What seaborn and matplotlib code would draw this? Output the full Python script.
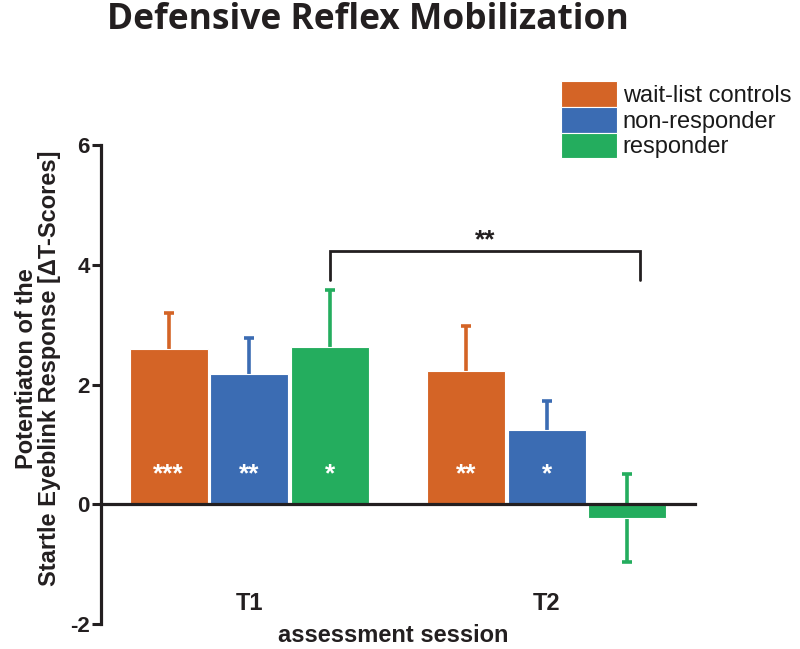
import matplotlib
matplotlib.use('Agg')
import matplotlib.pyplot as plt
import seaborn as sns
import pandas as pd

# dados
sessions = ['T1', 'T2']
groups = ['wait-list controls', 'non-responder', 'responder']
mean_waitlist = [2.60, 2.23]
mean_nonresp = [2.17, 1.24]
mean_resp = [2.62, -0.23]
sem_waitlist = [0.60, 0.74]
sem_nonresp = [0.61, 0.48]
sem_resp = [0.96, 0.73]
stars_waitlist = ['***', '**']
stars_nonresp = ['**', '*']
stars_resp = ['*', '']
yticks = [-2, 0, 2, 4, 6]

colors = ['#D46426', '#3B6CB3', '#24AD5E']
dark = '#231F20'

means = [mean_waitlist, mean_nonresp, mean_resp]
sems = [sem_waitlist, sem_nonresp, sem_resp]
stars = [stars_waitlist, stars_nonresp, stars_resp]

rows = []
for g, m in zip(groups, means):
    for s, v in zip(sessions, m):
        rows.append({'session': s, 'group': g, 'valor': v})
df = pd.DataFrame(rows)

sns.set_style('white')
plt.rcParams['font.family'] = ['Liberation Sans', 'DejaVu Sans']

fig = plt.figure(figsize=(8, 6.49), dpi=100)
ax = fig.add_axes([0.126, 0.0385, 0.743, 0.738])

sns.barplot(data=df, x='session', y='valor', hue='group', hue_order=groups,
            palette=colors, width=0.815, gap=0.035, errorbar=None,
            edgecolor='white', linewidth=0.8, saturation=1, ax=ax, zorder=2)

bar_conts = list(ax.containers)  # copia antes de adicionar as barras de erro

# barras de erro e asteriscos
for i, cont in enumerate(bar_conts):
    for j, bar in enumerate(cont):
        xc = bar.get_x() + bar.get_width() / 2
        ax.errorbar(xc, means[i][j], yerr=sems[i][j], fmt='none',
                    ecolor=colors[i], elinewidth=2.6, capsize=3.3,
                    capthick=2.6, zorder=1)
        if stars[i][j]:
            ax.text(xc, 0.39, stars[i][j], ha='center', va='baseline',
                    color='white', fontsize=19, fontweight='bold', zorder=3)

# colchete de significância
x_left = bar_conts[2][0].get_x() + bar_conts[2][0].get_width() / 2
x_right = 1.313
ax.plot([x_left, x_left, x_right, x_right], [3.75, 4.23, 4.23, 3.75],
        color=dark, lw=2.0, solid_joinstyle='miter', clip_on=False)
ax.text((x_left + x_right) / 2, 4.30, '**', ha='center', va='baseline',
        color=dark, fontsize=19, fontweight='bold')

ax.set_xlim(-0.5, 1.5)
ax.set_ylim(-2, 6)

sns.despine(ax=ax)
ax.spines['bottom'].set_position(('data', 0))  # isto reinicia os ticks do eixo x
ax.spines['bottom'].set_zorder(4)
for sp in ['left', 'bottom']:
    ax.spines[sp].set_linewidth(2.3)
    ax.spines[sp].set_color(dark)

ax.tick_params(axis='y', length=6.5, width=2.2, color=dark, pad=1.5, direction='out', left=True)
ax.tick_params(axis='x', length=0, pad=63.5, labelsize=17, labelcolor=dark)
ax.set_yticks(yticks)
ax.set_yticklabels([str(t) for t in yticks], fontsize=16, fontweight='bold', color=dark)
ax.set_xticks([0, 1])
ax.set_xticklabels(sessions, fontsize=17, fontweight='bold', color=dark)

ax.set_xlabel('assessment session', fontsize=17, fontweight='bold', color=dark)
ax.xaxis.set_label_coords(0.4916, (624 - 635) / 479)
ax.xaxis.label.set_verticalalignment('center')
ax.set_ylabel('Potentiaton of the\nStartle Eyeblink Response [\u0394T-Scores]',
              fontsize=17, fontweight='bold', color=dark, linespacing=1.0)
ax.yaxis.set_label_coords(-0.106, 0.534)
ax.yaxis.label.set_verticalalignment('center')

handles, labels = ax.get_legend_handles_labels()
ax.legend(handles, labels, loc='upper left', bbox_to_anchor=(0.701, 0.875),
          bbox_transform=fig.transFigure, frameon=False, fontsize=17,
          handlelength=2.37, handleheight=1.3, handletextpad=0.25,
          labelspacing=0.0, borderpad=0, borderaxespad=0, labelcolor='#1a1a1a')

fig.text(0.46, 0.969, 'Defensive Reflex Mobilization', ha='center', va='center',
         fontsize=25.5, fontweight='bold', family='Open Sans', color=dark)

fig.savefig('out.png', dpi=100)
